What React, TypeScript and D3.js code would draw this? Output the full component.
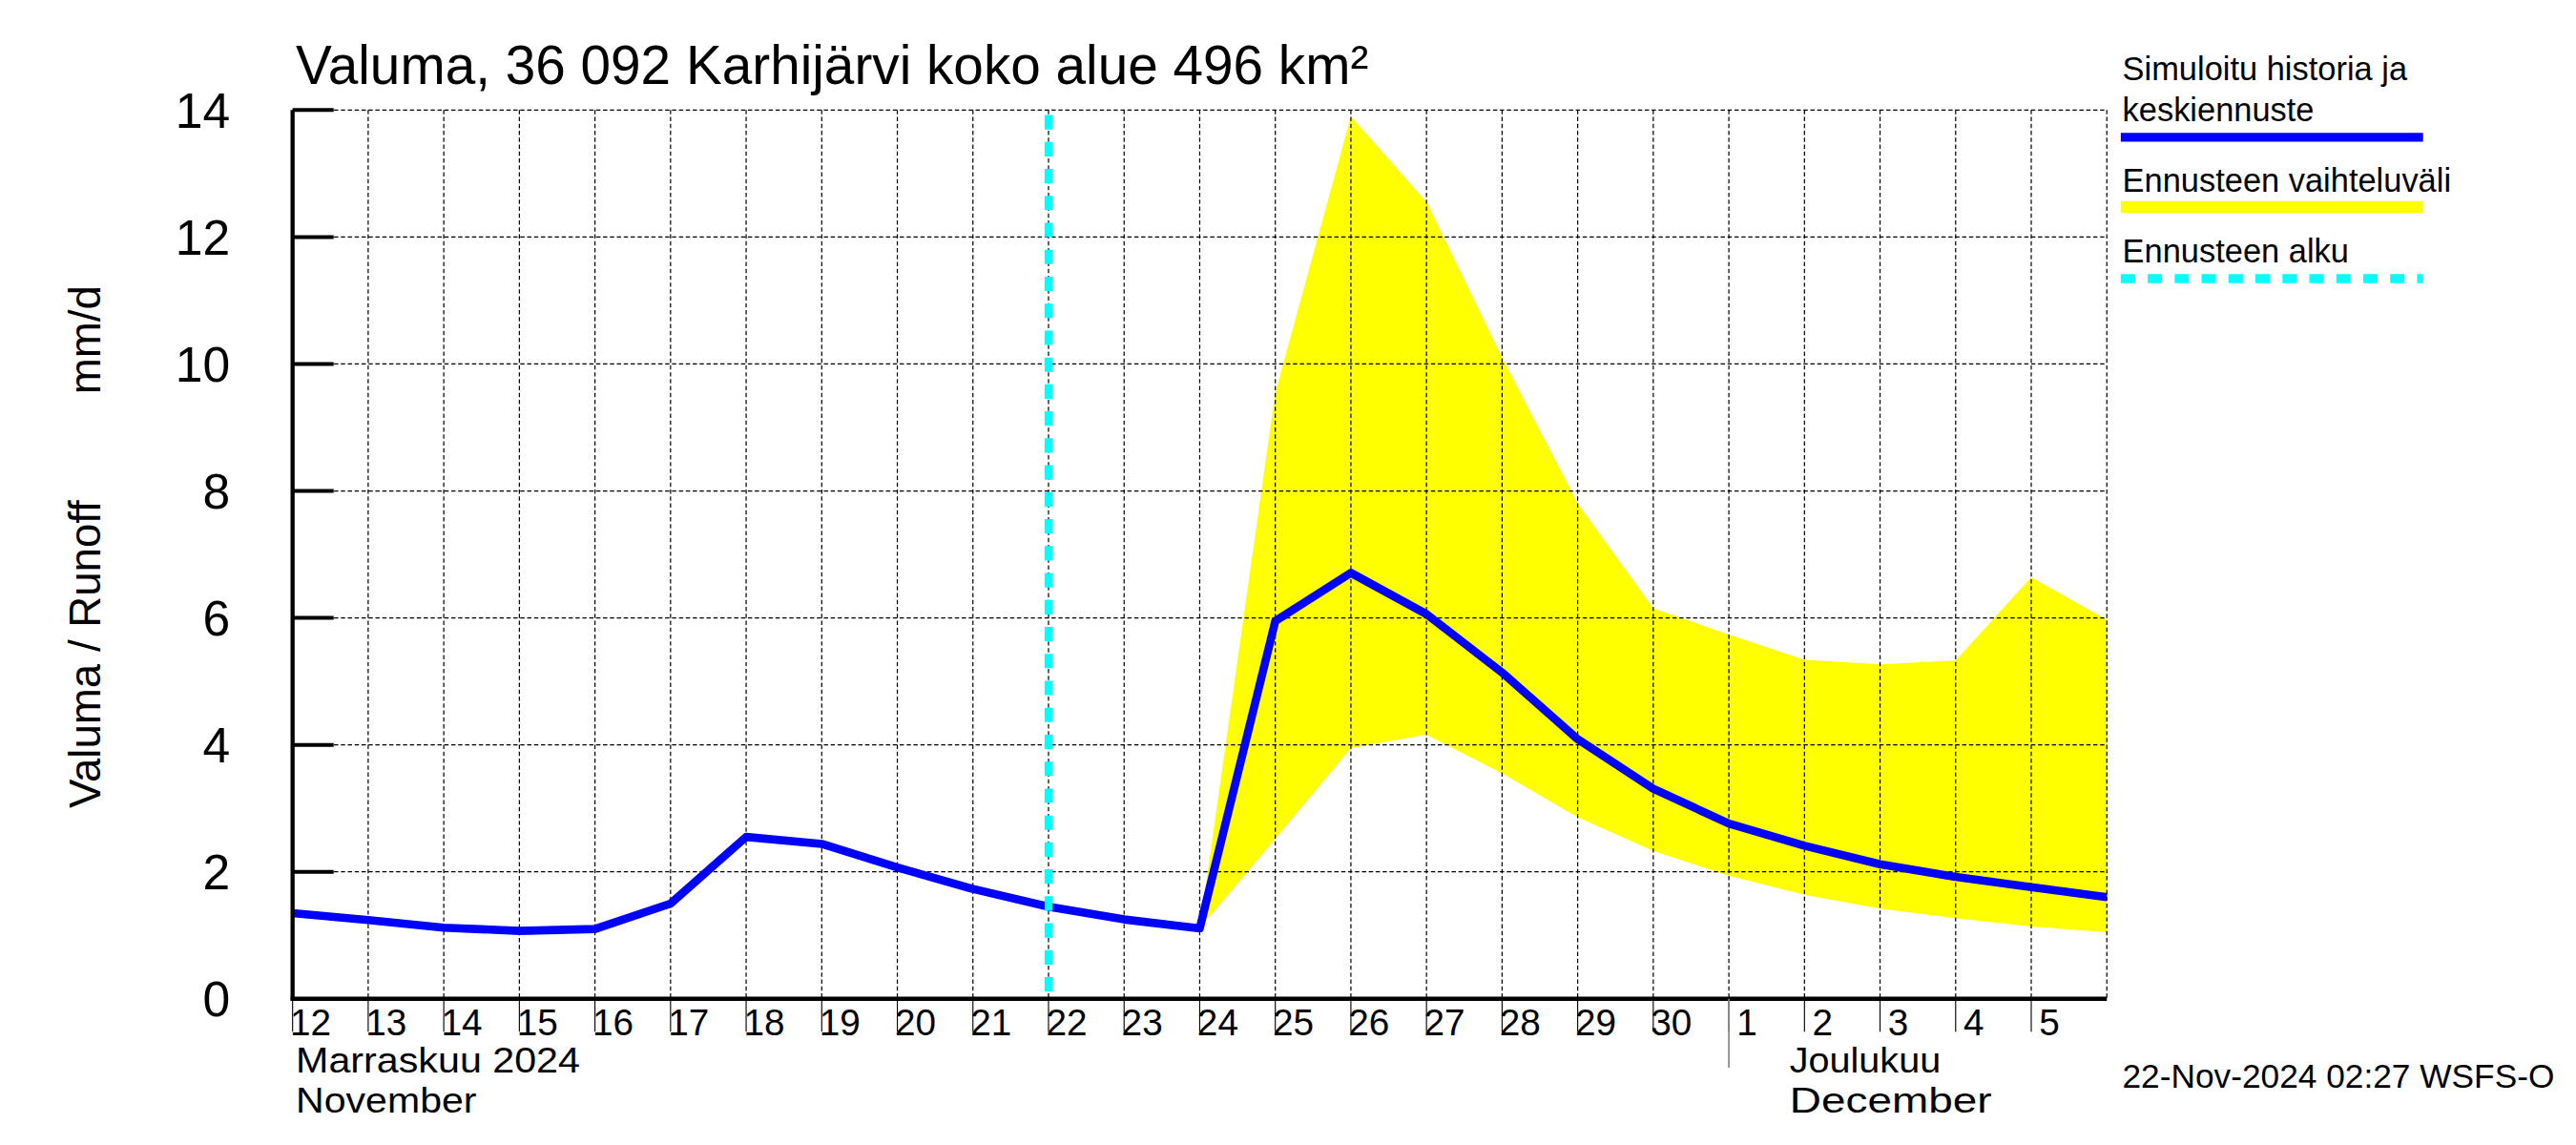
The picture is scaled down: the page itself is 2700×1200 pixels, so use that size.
import React, { useRef, useEffect } from "react";
import * as d3 from "d3";

// Simulated history + mean forecast, one value per day at 00:00 (Nov 12 .. Dec 6)
const simDates = [
  "2024-11-12", "2024-11-13", "2024-11-14", "2024-11-15", "2024-11-16",
  "2024-11-17", "2024-11-18", "2024-11-19", "2024-11-20", "2024-11-21",
  "2024-11-22", "2024-11-23", "2024-11-24", "2024-11-25", "2024-11-26",
  "2024-11-27", "2024-11-28", "2024-11-29", "2024-11-30", "2024-12-01",
  "2024-12-02", "2024-12-03", "2024-12-04", "2024-12-05", "2024-12-06",
];
const simValues = [
  1.35, 1.24, 1.12, 1.07, 1.1, 1.5, 2.55, 2.44, 2.07, 1.73, 1.45, 1.25, 1.11,
  5.95, 6.71, 6.06, 5.14, 4.09, 3.31, 2.76, 2.41, 2.12, 1.92, 1.76, 1.6,
];

// Forecast range (Nov 24 .. Dec 6)
const bandDates = [
  "2024-11-24", "2024-11-25", "2024-11-26", "2024-11-27", "2024-11-28",
  "2024-11-29", "2024-11-30", "2024-12-01", "2024-12-02", "2024-12-03",
  "2024-12-04", "2024-12-05", "2024-12-06",
];
const bandUpper = [1.11, 9.55, 13.9, 12.55, 10.1, 7.8, 6.15, 5.74, 5.34, 5.27, 5.33, 6.64, 5.97];
const bandLower = [1.11, 2.52, 3.95, 4.16, 3.55, 2.86, 2.33, 1.94, 1.64, 1.42, 1.27, 1.14, 1.05];

const forecastStart = "2024-11-22";

const tickDates = simDates.slice(0, 24);
const tickLabels = [
  "12", "13", "14", "15", "16", "17", "18", "19", "20", "21", "22", "23",
  "24", "25", "26", "27", "28", "29", "30", "1", "2", "3", "4", "5",
];
const yTicks = [0, 2, 4, 6, 8, 10, 12, 14];

const W = 1568;
const H = 697;
const FONT = "'Liberation Sans', Arial, Helvetica, sans-serif";

const parse = (s: string) => new Date(s + "T00:00:00Z");

const App: React.FC = () => {
  const svgRef = useRef<SVGSVGElement>(null);

  useEffect(() => {
    if (!svgRef.current) return;
    const svg = d3.select(svgRef.current);
    svg.selectAll("*").remove();

    const left = 178, right = 1282.5, top = 67, bottom = 608;

    const x = d3
      .scaleUtc()
      .domain([parse("2024-11-12"), parse("2024-12-06")])
      .range([left, right]);
    const y = d3.scaleLinear().domain([0, 14]).range([bottom, top]);

    svg.append("rect").attr("width", W).attr("height", H).attr("fill", "#fff");

    // forecast range
    const area = d3
      .area<number>()
      .x((i) => x(parse(bandDates[i])))
      .y0((i) => y(bandLower[i]))
      .y1((i) => y(bandUpper[i]));
    svg
      .append("path")
      .datum(d3.range(bandDates.length))
      .attr("fill", "#ffff00")
      .attr("d", area);

    // grid
    const grid = svg.append("g").attr("stroke", "#000").attr("stroke-width", 0.7).attr("stroke-dasharray", "2.6 1.6");
    yTicks.slice(1).forEach((v) => {
      grid.append("line").attr("x1", left).attr("x2", right).attr("y1", y(v)).attr("y2", y(v));
    });
    simDates.slice(1).forEach((d) => {
      grid.append("line").attr("x1", x(parse(d))).attr("x2", x(parse(d))).attr("y1", top).attr("y2", bottom);
    });

    // simulated / mean forecast line
    const line = d3
      .line<number>()
      .x((i) => x(parse(simDates[i])))
      .y((i) => y(simValues[i]));
    svg
      .append("path")
      .datum(d3.range(simDates.length))
      .attr("fill", "none")
      .attr("stroke", "#0000ff")
      .attr("stroke-width", 5)
      .attr("stroke-linejoin", "round")
      .attr("d", line);

    // forecast start
    const fx = x(parse(forecastStart));
    svg
      .append("line")
      .attr("x1", fx).attr("x2", fx).attr("y1", top + 3).attr("y2", bottom)
      .attr("stroke", "#00ffff")
      .attr("stroke-width", 4.8)
      .attr("stroke-dasharray", "8.8 7.6");

    // axes
    svg.append("line").attr("x1", left).attr("x2", left).attr("y1", top).attr("y2", bottom + 1.2)
      .attr("stroke", "#000").attr("stroke-width", 2.5);
    svg.append("line").attr("x1", left - 1.2).attr("x2", right).attr("y1", bottom).attr("y2", bottom)
      .attr("stroke", "#000").attr("stroke-width", 2.5);

    // y ticks + labels
    yTicks.forEach((v) => {
      if (v > 0) {
        svg.append("line").attr("x1", left).attr("x2", left + 25).attr("y1", y(v)).attr("y2", y(v))
          .attr("stroke", "#000").attr("stroke-width", 2.3);
      }
      svg.append("text")
        .attr("x", 140).attr("y", y(v)).attr("dy", "0.36em")
        .attr("text-anchor", "end")
        .attr("font-family", FONT).attr("font-size", 30)
        .text(String(v));
    });

    // x ticks + labels
    tickDates.forEach((d, i) => {
      const xx = x(parse(d));
      svg.append("line").attr("x1", xx).attr("x2", xx).attr("y1", bottom).attr("y2", bottom + 20)
        .attr("stroke", "#000").attr("stroke-width", 0.65);
      svg.append("text")
        .attr("x", xx + 11).attr("y", 630)
        .attr("text-anchor", "middle")
        .attr("font-family", FONT).attr("font-size", 22.5)
        .text(tickLabels[i]);
    });
    const dec1 = x(parse("2024-12-01"));
    svg.append("line").attr("x1", dec1).attr("x2", dec1).attr("y1", bottom).attr("y2", 650)
      .attr("stroke", "#888").attr("stroke-width", 1);

    const monthText = (tx: number, ty: number, s: string, len: number) =>
      svg.append("text").attr("x", tx).attr("y", ty)
        .attr("font-family", FONT).attr("font-size", 21.5)
        .attr("textLength", len).attr("lengthAdjust", "spacingAndGlyphs")
        .text(s);
    monthText(left + 2, 653, "Marraskuu 2024", 173);
    monthText(left + 2, 677.5, "November", 110);
    monthText(dec1 + 37, 653, "Joulukuu", 92);
    monthText(dec1 + 37, 677.5, "December", 123);

    // y label
    const yl = svg.append("g").attr("transform", "translate(61,0) rotate(-90)");
    yl.append("text").attr("x", -492).attr("y", 0)
      .attr("font-family", FONT).attr("font-size", 26.5).text("Valuma / Runoff");
    yl.append("text").attr("x", -240).attr("y", 0)
      .attr("font-family", FONT).attr("font-size", 26.5).text("mm/d");

    // title
    svg.append("text").attr("x", 180).attr("y", 51)
      .attr("font-family", FONT).attr("font-size", 33)
      .attr("textLength", 653).attr("lengthAdjust", "spacingAndGlyphs")
      .text("Valuma, 36 092 Karhijärvi koko alue 496 km²");

    // legend
    const lx = 1292, lw = 184;
    const legText = (ty: number, s: string) =>
      svg.append("text").attr("x", lx).attr("y", ty)
        .attr("font-family", FONT).attr("font-size", 20).text(s);
    legText(49, "Simuloitu historia ja");
    legText(73.5, "keskiennuste");
    svg.append("line").attr("x1", lx - 1).attr("x2", lx - 1 + lw).attr("y1", 83.6).attr("y2", 83.6)
      .attr("stroke", "#0000ff").attr("stroke-width", 5.4);
    legText(117, "Ennusteen vaihteluväli");
    svg.append("line").attr("x1", lx - 1).attr("x2", lx - 1 + lw).attr("y1", 126).attr("y2", 126)
      .attr("stroke", "#ffff00").attr("stroke-width", 7.2);
    legText(160, "Ennusteen alku");
    svg.append("line").attr("x1", lx - 1).attr("x2", lx - 1 + lw).attr("y1", 169.6).attr("y2", 169.6)
      .attr("stroke", "#00ffff").attr("stroke-width", 5.6).attr("stroke-dasharray", "8.7 7.7");

    // timestamp
    svg.append("text").attr("x", 1555).attr("y", 662).attr("text-anchor", "end")
      .attr("font-family", FONT).attr("font-size", 20.5).text("22-Nov-2024 02:27 WSFS-O");
  }, []);

  return (
    <svg
      ref={svgRef}
      width={2700}
      height={1200}
      viewBox={`0 0 ${W} ${H}`}
      style={{ position: "absolute", left: 0, top: 0 }}
    />
  );
};

export default App;
